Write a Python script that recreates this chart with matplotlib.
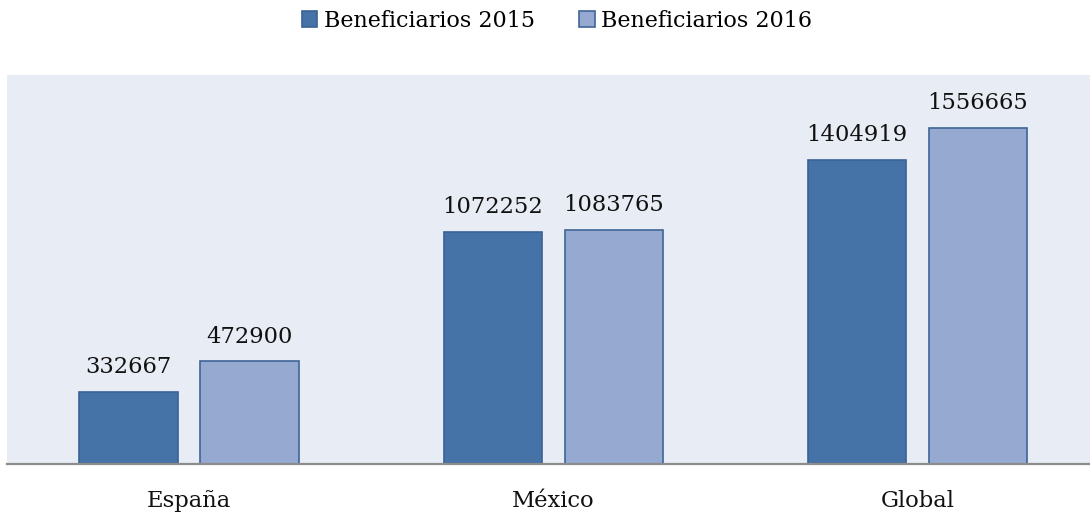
import numpy as np
import matplotlib.pyplot as plt

categories = ["España", "México", "Global"]
benef_2015 = [332667, 1072252, 1404919]
benef_2016 = [472900, 1083765, 1556665]
series_names = ["Beneficiarios 2015", "Beneficiarios 2016"]

plt.rcParams['font.family'] = ['DejaVu Serif']

fig = plt.figure(figsize=(10.9, 5.13), dpi=100)
ax = fig.add_axes([7 / 1090, 49.5 / 513, 1 - 7 / 1090, (463.5 - 75) / 513])
ax.set_facecolor("#E8ECF4")

x = np.arange(len(categories))
w = 0.27
off = 0.166
b1 = ax.bar(x - off, benef_2015, w, color="#4573A7", edgecolor="#3A6194",
            linewidth=1.2, label=series_names[0])
b2 = ax.bar(x + off, benef_2016, w, color="#95A9D1", edgecolor="#3F6598",
            linewidth=1.2, label=series_names[1])

for bars in (b1, b2):
    for rect in bars:
        h = rect.get_height()
        ax.annotate(str(int(h)), (rect.get_x() + rect.get_width() / 2, h),
                    xytext=(0, 10), textcoords="offset points",
                    ha="center", va="bottom", fontsize=16.3, color="#111111")

ax.set_xlim(-0.5, 2.474)
ax.set_ylim(0, 1.8e6)
ax.set_yticks([])
ax.set_xticks(x)
ax.set_xticklabels(categories, fontsize=16.3, color="#111111")
ax.tick_params(axis="x", length=0, pad=19)
for s in ["top", "left", "right"]:
    ax.spines[s].set_visible(False)
ax.spines["bottom"].set_color("#8C8C8C")
ax.spines["bottom"].set_linewidth(1.6)

fig.legend(loc="center", bbox_to_anchor=(557 / 1090, 1 - 21 / 513), ncol=2,
           frameon=False, fontsize=16, handlelength=0.7, handleheight=0.7,
           handletextpad=0.3, columnspacing=2.0)

fig.savefig("out.png", dpi=100)
